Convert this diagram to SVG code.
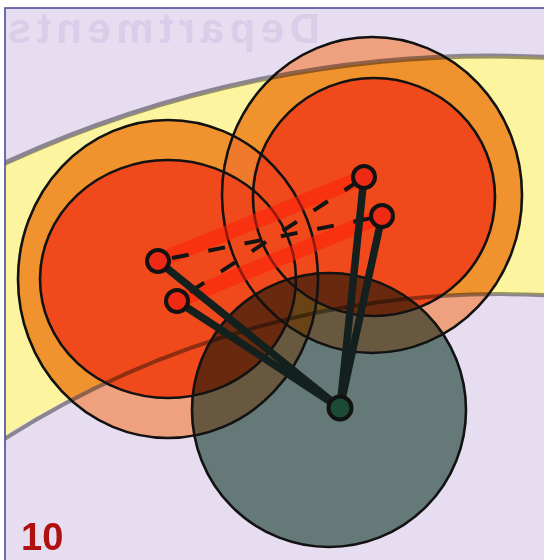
<svg xmlns="http://www.w3.org/2000/svg" width="544" height="560" viewBox="0 0 544 560">
<style>
.outline{fill:none;stroke:#121212;stroke-width:2.6}
.spoke{stroke:#14201e;stroke-width:7.5;stroke-linecap:round}
.dash{stroke:#141414;stroke-width:4;stroke-dasharray:17 20}
.band{stroke:#ff1e0a;stroke-width:15;stroke-opacity:0.55;stroke-linecap:butt}
.rnode{fill:#ee2a16;stroke:#121212;stroke-width:4}
.gnode{fill:#1c4a34;stroke:#121212;stroke-width:4}
.edge{fill:none;stroke:#9a9a9a;mix-blend-mode:multiply}
</style>
<defs>
<clipPath id="frame"><rect x="5" y="8" width="539" height="552"/></clipPath>
<clipPath id="bandclip"><path clip-rule="evenodd" d="M497,56 a1164,1164 0 1,0 0.01,0 Z M497,294 a926,926 0 1,0 0.01,0 Z"/></clipPath>
<clipPath id="lo"><ellipse cx="168" cy="279" rx="150" ry="159"/></clipPath>
</defs>
<rect x="0" y="0" width="544" height="560" fill="#ffffff"/>
<g clip-path="url(#frame)">
<rect x="5" y="8" width="539" height="552" fill="#e7ddf1"/>
<text transform="scale(-1,1)" x="-320" y="43" textLength="312" font-family="Liberation Sans, sans-serif" font-weight="bold" font-size="42" fill="#dacdea">Departments</text>
<path fill="#fcf49e" fill-rule="evenodd" d="M497,56 a1164,1164 0 1,0 0.01,0 Z M497,294 a926,926 0 1,0 0.01,0 Z"/>

<g id="circle-left-outer-fill">
<ellipse cx="168" cy="279" rx="150" ry="159" fill="#efa07e"/>
<ellipse cx="168" cy="279" rx="150" ry="159" fill="#f0922e" clip-path="url(#bandclip)"/>
</g>
<g id="circle-right-outer-fill">
<ellipse cx="372" cy="195" rx="150" ry="158" fill="#efa07e"/>
<ellipse cx="372" cy="195" rx="150" ry="158" fill="#f0922e" clip-path="url(#bandclip)"/>
<ellipse cx="372" cy="195" rx="150" ry="158" fill="#f07a2c" clip-path="url(#lo)"/>
</g>
<g id="circle-left-inner-fill"><ellipse cx="168" cy="279" rx="128" ry="119" fill="#f04a1c"/></g>
<g id="circle-right-inner-fill"><ellipse cx="374" cy="197" rx="121" ry="119" fill="#f04a1c"/></g>

<path class="edge" stroke-width="5" d="M-20,175 A1164,1164 0 0,1 560,58"/>
<path class="edge" stroke-width="4" d="M-20,455 A926,926 0 0,1 560,296"/>

<g id="circle-bottom-fill"><circle cx="329" cy="410" r="137" fill="#6f8c80" style="mix-blend-mode:multiply"/></g>

<g id="outlines">
<ellipse class="outline" cx="168" cy="279" rx="150" ry="159"/>
<ellipse class="outline" cx="372" cy="195" rx="150" ry="158"/>
<ellipse class="outline" cx="168" cy="279" rx="128" ry="119"/>
<ellipse class="outline" cx="374" cy="197" rx="121" ry="119"/>
<circle class="outline" cx="329" cy="410" r="137"/>
</g>

<g id="connectors">
<line class="band" x1="158" y1="261" x2="364" y2="177"/>
<line class="band" x1="177" y1="301" x2="382" y2="216"/>
<line class="dash" x1="172" y1="258" x2="372" y2="218"/>
<line class="dash" x1="190" y1="292" x2="354" y2="184"/>
<line class="spoke" x1="158" y1="261" x2="340" y2="408"/>
<line class="spoke" x1="177" y1="301" x2="340" y2="408"/>
<line class="spoke" x1="364" y1="177" x2="340" y2="408"/>
<line class="spoke" x1="382" y1="216" x2="340" y2="408"/>
</g>

<g id="node-a"><circle class="rnode" cx="158" cy="261" r="11"/></g>
<g id="node-b"><circle class="rnode" cx="177" cy="301" r="11"/></g>
<g id="node-c"><circle class="rnode" cx="364" cy="177" r="11"/></g>
<g id="node-d"><circle class="rnode" cx="382" cy="216" r="11"/></g>
<g id="node-g"><circle class="gnode" cx="340" cy="408" r="11.5"/></g>

<text x="21" y="550" font-family="Liberation Sans, sans-serif" font-weight="bold" font-size="38" fill="#b01010">10</text>
</g>
<rect x="5" y="8" width="545" height="560" fill="none" stroke="#4c4c94" stroke-width="1.6"/>
</svg>
